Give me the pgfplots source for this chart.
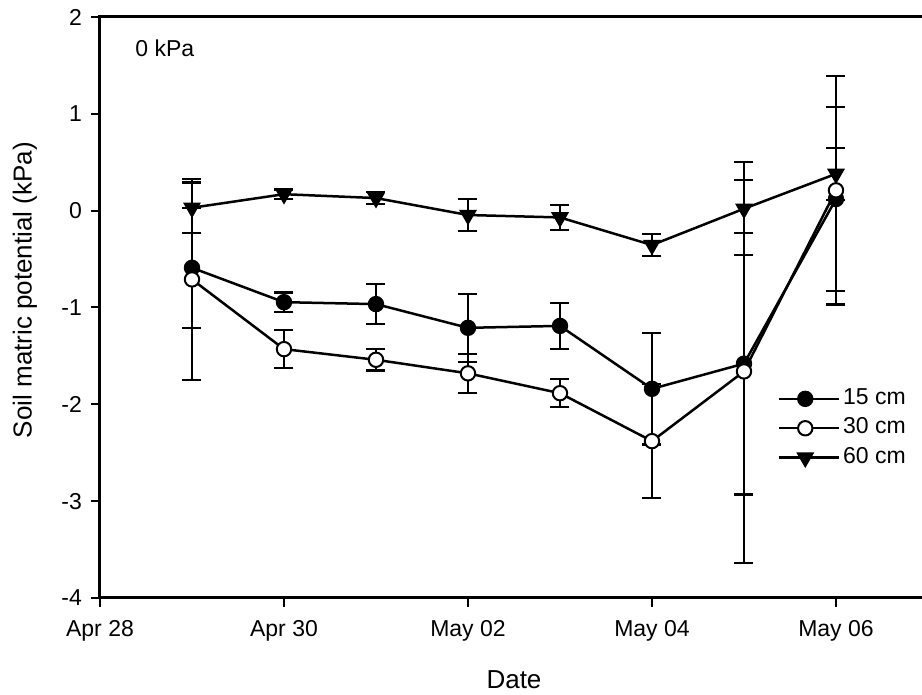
\documentclass[border=0pt]{standalone}
\usepackage{fontspec}
\setmainfont{Liberation Sans}
\usepackage{pgfplots}
\usepackage{pgfplotstable}
\pgfplotsset{compat=1.18}
\usetikzlibrary{calc}

\pgfplotstableread{
x y e
1 -0.59 0.62
2 -0.945 0.10
3 -0.965 0.205
4 -1.21 0.35
5 -1.19 0.24
6 -1.84 0.575
7 -1.58 1.35
8 0.12 0.95
}\tabA
\pgfplotstableread{
x y e
1 -0.71 1.04
2 -1.43 0.195
3 -1.54 0.11
4 -1.68 0.20
5 -1.885 0.145
6 -2.38 0.59
7 -1.66 1.98
8 0.21 1.18
}\tabB
\pgfplotstableread{
x y e
1 0.03 0.26
2 0.17 0.05
3 0.13 0.06
4 -0.045 0.165
5 -0.07 0.13
6 -0.355 0.115
7 0.02 0.48
8 0.38 0.27
}\tabC

\begin{document}
\begin{tikzpicture}
\begin{axis}[
  name=ax,
  scale only axis,
  width=414pt, height=290.5pt,
  xmin=0, xmax=9, ymin=-4, ymax=2,
  xtick={0,2,4,6,8},
  xticklabels={Apr 28,Apr 30,May 02,May 04,May 06},
  ytick={-4,-3,-2,-1,0,1,2},
  /pgf/number format/assume math mode=true,
  tick label style={font=\fontsize{11.5}{13}\selectfont},
  xticklabel style={yshift=-3pt},
  yticklabel style={xshift=-1pt},
  axis line style={line width=1.5pt},
  tick style={line width=1pt, black},
  major tick length=4.5pt,
  tick align=outside,
  xtick pos=bottom, ytick pos=left,
  xlabel={Date},
  ylabel={Soil matric potential (kPa)},
  label style={font=\fontsize{13}{15}\selectfont},
  xlabel style={at={(axis description cs:0.5,0)}, anchor=center, yshift=-41pt},
  ylabel style={at={(axis description cs:-0.0906,0.53)}, anchor=center},
  legend style={draw=none, fill=none, at={(axis cs:7.36,-2.247)}, anchor=west, xshift=-3pt,
    font=\fontsize{11.5}{13}\selectfont, row sep=0pt,
    nodes={text height=8.6pt, text depth=2.9pt, inner sep=1.6pt}},
  legend cell align=left,
  legend image code/.code={
    \path (0pt,0pt) -- (30pt,0pt);
    \draw[#1, mark repeat=2, mark phase=2] plot coordinates {(0pt,0pt) (13.25pt,0pt) (26.5pt,0pt)};
  },
]
\addplot[black, line width=1.25pt, mark=*, mark size=3.6pt, mark options={fill=black, line width=1pt},
  error bars/.cd, y dir=both, y explicit,
  error bar style={line width=1.15pt, black},
  error mark options={line width=1.15pt, black, mark size=4.75pt, rotate=90}]
  table[x=x, y=y, y error=e] {\tabA};
\addlegendentry{15 cm}
\addplot[black, line width=1.25pt, mark=*, mark size=3.6pt, mark options={fill=white, line width=1pt},
  error bars/.cd, y dir=both, y explicit,
  error bar style={line width=1.15pt, black},
  error mark options={line width=1.15pt, black, mark size=4.75pt, rotate=90}]
  table[x=x, y=y, y error=e] {\tabB};
\addlegendentry{30 cm}
\addplot[black, line width=1.25pt, mark=triangle*, mark size=4.6pt, mark options={fill=black, rotate=180, line width=0.6pt},
  error bars/.cd, y dir=both, y explicit,
  error bar style={line width=1.15pt, black},
  error mark options={line width=1.15pt, black, mark size=4.75pt, rotate=90}]
  table[x=x, y=y, y error=e] {\tabC};
\addlegendentry{60 cm}
\node[anchor=west, font=\fontsize{11.5}{13}\selectfont, inner sep=0pt] at (axis cs:0.38,1.68) {0 kPa};
\end{axis}
\pgfresetboundingbox
\path[use as bounding box] ($(ax.south west)+(-50pt,-48.5pt)$) rectangle ($(ax.south west)+(411pt,299pt)$);
\end{tikzpicture}
\end{document}
